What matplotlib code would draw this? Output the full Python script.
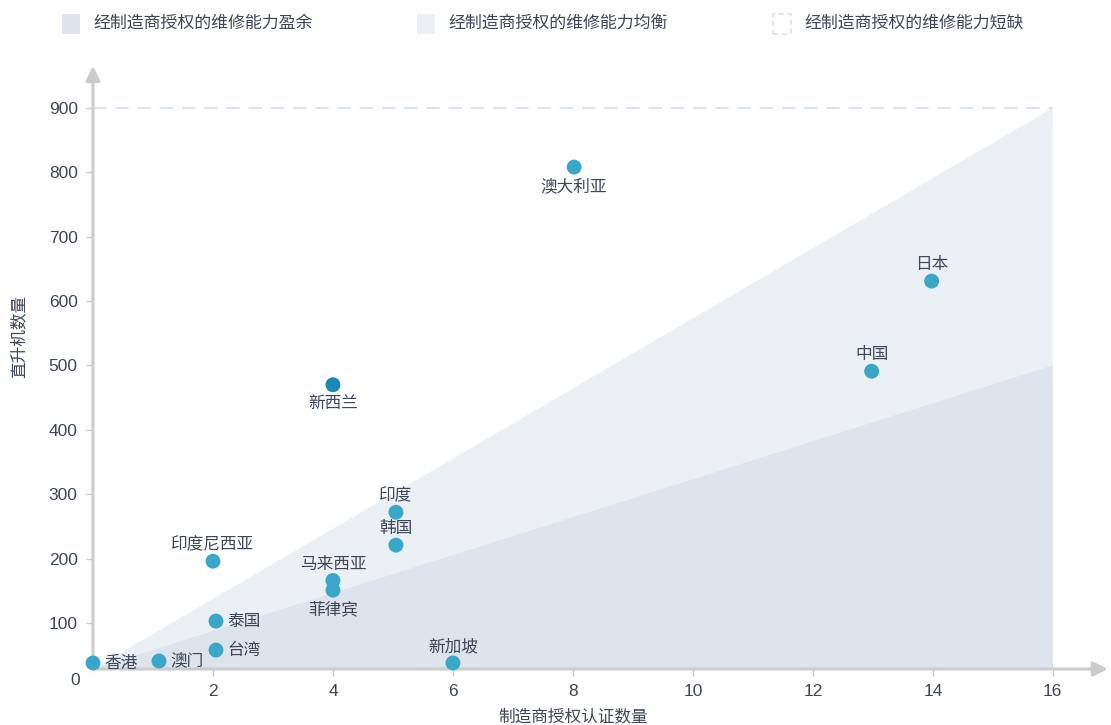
import matplotlib
matplotlib.use("Agg")
import matplotlib.pyplot as plt
from matplotlib.patches import Polygon, Rectangle

plt.rcParams['font.family'] = ['Liberation Sans', 'Noto Sans CJK SC', 'DejaVu Sans']

# ---- data ----
names = ['香港', '澳门', '台湾', '泰国', '新加坡', '印度尼西亚', '马来西亚', '菲律宾',
         '新西兰', '印度', '韩国', '澳大利亚', '日本', '中国']
certs = [0, 1.1, 2.05, 2.05, 6, 2, 4, 4, 4, 5.05, 5.05, 8.02, 13.98, 12.98]
helis = [38, 41, 58, 103, 38, 196, 166, 151, 470, 272, 221, 808, 631, 491]
label_pos = ['right', 'right', 'right', 'right', 'top', 'top', 'top', 'bottom',
             'bottom', 'top', 'top', 'bottom', 'top', 'top']
highlight = '新西兰'

legend_labels = ['经制造商授权的维修能力盈余', '经制造商授权的维修能力均衡', '经制造商授权的维修能力短缺']
x_ticks = [2, 4, 6, 8, 10, 12, 14, 16]
y_ticks = [100, 200, 300, 400, 500, 600, 700, 800, 900]
x_label = '制造商授权认证数量'
y_label = '直升机数量'

# region boundaries (helicopters at x = 16)
x_end = 16
surplus_top = 500
balance_top = 900
y_min = 28.6
y_max = 965
x_max = 16.92

# ---- figure ----
W, H = 1111, 725
fig = plt.figure(figsize=(W / 100, H / 100), dpi=100)
ax = fig.add_axes([93 / W, (H - 669) / H, (1108 - 93) / W, (669 - 66) / H])
ax.set_xlim(0, x_max)
ax.set_ylim(y_min, y_max)
for s in ax.spines.values():
    s.set_visible(False)

c_dark = '#dee4eb'
c_light = '#ebf0f5'
c_dash = '#dbe4ed'
axis_c = '#cccccc'
txt_c = '#3f4657'

# regions
ax.add_patch(Polygon([(0, y_min), (x_end, balance_top), (x_end, y_min)],
                     closed=True, facecolor=c_light, edgecolor='none', zorder=1))
ax.add_patch(Polygon([(0, y_min), (x_end, surplus_top), (x_end, y_min)],
                     closed=True, facecolor=c_dark, edgecolor='none', zorder=2))
ax.plot([0, x_end], [balance_top, balance_top], color=c_dash, lw=1.6,
        dashes=(6, 4), zorder=2)

# axes with arrows
ax.annotate('', xy=(1, 0), xytext=(0, 0), xycoords='axes fraction',
            arrowprops=dict(arrowstyle='-|>', color=axis_c, lw=2.2, mutation_scale=22,
                            shrinkA=0, shrinkB=0), zorder=3)
ax.annotate('', xy=(0, 1), xytext=(0, 0), xycoords='axes fraction',
            arrowprops=dict(arrowstyle='-|>', color=axis_c, lw=2.2, mutation_scale=22,
                            shrinkA=0, shrinkB=0), zorder=3)

ax.set_xticks(x_ticks)
ax.set_yticks(y_ticks)
ax.set_xticklabels([str(t) for t in x_ticks])
ax.set_yticklabels([str(t) for t in y_ticks])
ax.tick_params(axis='both', length=5, width=1, color=axis_c, labelcolor=txt_c,
               labelsize=12.5, pad=6)
ax.text(-0.22, y_min - 6, '0', ha='right', va='top', color=txt_c, fontsize=12.5,
        transform=ax.transData)

fig.text(573 / W, (H - 716) / H, x_label, ha='center', va='center',
         color=txt_c, fontsize=12)
fig.text(19 / W, (H - 336) / H, y_label, ha='center', va='center', rotation=90,
         color=txt_c, fontsize=12)

# points
for n, x, y, pos in zip(names, certs, helis, label_pos):
    col = '#1b88b6' if n == highlight else '#3aa7c8'
    ax.scatter([x], [y], s=115, color=col, zorder=5, edgecolors='none', clip_on=False)
    if pos == 'right':
        off, ha, va = (11, 0), 'left', 'center'
    elif pos == 'top':
        off, ha, va = (0, 9), 'center', 'bottom'
    else:
        off, ha, va = (0, -11), 'center', 'top'
    ax.annotate(n, (x, y), xytext=off, textcoords='offset pixels', ha=ha, va=va,
                fontsize=12, color=txt_c, zorder=6)

# legend
legend_x = [62, 417, 773]
for i, (lx, lab) in enumerate(zip(legend_x, legend_labels)):
    if i == 0:
        fig.patches.append(Rectangle((lx / W, (H - 34) / H), 18 / W, 20 / H,
                                     transform=fig.transFigure, facecolor=c_dark,
                                     edgecolor='none'))
    elif i == 1:
        fig.patches.append(Rectangle((lx / W, (H - 34) / H), 18 / W, 20 / H,
                                     transform=fig.transFigure, facecolor=c_light,
                                     edgecolor='none'))
    else:
        fig.patches.append(Rectangle((lx / W, (H - 34) / H), 18 / W, 20 / H,
                                     transform=fig.transFigure, facecolor='white',
                                     edgecolor=c_dash, lw=1.3, linestyle=(0, (3, 2))))
    fig.text((lx + 31) / W, (H - 23) / H, lab, ha='left', va='center',
             fontsize=12.2, color=txt_c)

fig.savefig('out.png', dpi=100)
